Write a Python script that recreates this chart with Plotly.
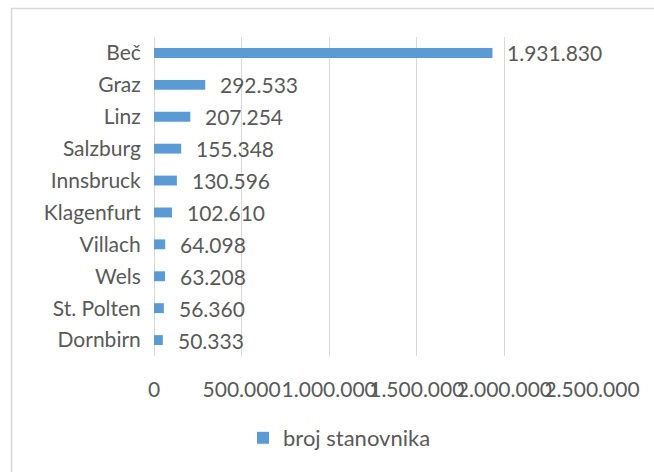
import plotly.graph_objects as go

cities = ["Beč", "Graz", "Linz", "Salzburg", "Innsbruck", "Klagenfurt",
          "Villach", "Wels", "St. Polten", "Dornbirn"]
population = [1931830, 292533, 207254, 155348, 130596, 102610,
              64098, 63208, 56360, 50333]
x_ticks = [0, 500000, 1000000, 1500000, 2000000, 2500000]
series_name = "broj stanovnika"

W, H = 654, 472
PL, PR, PT, PB = 154, 592, 37, 356          # plot area in pixels
L, R, T, B = PL, W - PR, PT, H - PB

def px_x(p):
    return (p - PL) / (PR - PL)

def px_y(p):
    return (PB - p) / (PB - PT)

FONT = "Lato"
TXT = "#595959"
BAR = "#5B9BD5"
GRID = "#D9D9D9"

fig = go.Figure()
fig.add_trace(go.Bar(
    x=population, y=cities, orientation="h", name=series_name,
    marker=dict(color=BAR, line=dict(width=0)),
    showlegend=True, hoverinfo="skip",
))

for c, v in zip(cities, population):
    fig.add_annotation(
        x=v, y=c, xref="x", yref="y",
        text=f"{v:,}".replace(",", "."),
        showarrow=False, xanchor="left", xshift=13,
        font=dict(family=FONT, size=21, color=TXT),
    )

fig.update_layout(
    width=W, height=H,
    margin=dict(l=L, r=R, t=T, b=B, pad=0),
    paper_bgcolor="white", plot_bgcolor="white",
    separators=",.",
    bargap=0.69,
    font=dict(family=FONT, size=21, color=TXT),
    xaxis=dict(
        range=[0, 2500000], tickvals=x_ticks, tickformat=",d",
        tickangle=0, showgrid=True, gridcolor=GRID, gridwidth=1,
        zeroline=True, zerolinecolor=GRID, zerolinewidth=1,
        showline=False, ticks="outside", ticklen=15,
        tickcolor="rgba(0,0,0,0)",
        tickfont=dict(family=FONT, size=21, color=TXT),
        fixedrange=True,
    ),
    yaxis=dict(
        autorange="reversed", showgrid=False, zeroline=False,
        showline=False, ticks="outside", ticklen=8,
        tickcolor="rgba(0,0,0,0)",
        tickfont=dict(family=FONT, size=21, color=TXT),
        fixedrange=True,
    ),
    legend=dict(
        orientation="h", x=px_x(339.5), y=px_y(438),
        xanchor="center", yanchor="middle",
        font=dict(family=FONT, size=22, color=TXT),
        itemwidth=30,
    ),
    shapes=[dict(
        type="rect", xref="paper", yref="paper",
        x0=px_x(11.5), x1=px_x(760), y0=px_y(8.5), y1=px_y(600),
        line=dict(color=GRID, width=1.5), fillcolor="rgba(0,0,0,0)",
        layer="below",
    )],
)

fig.write_html(
    "out.html",
    config={"displayModeBar": False},
    post_script="document.body.style.margin='0';document.body.style.overflow='hidden';",
)
